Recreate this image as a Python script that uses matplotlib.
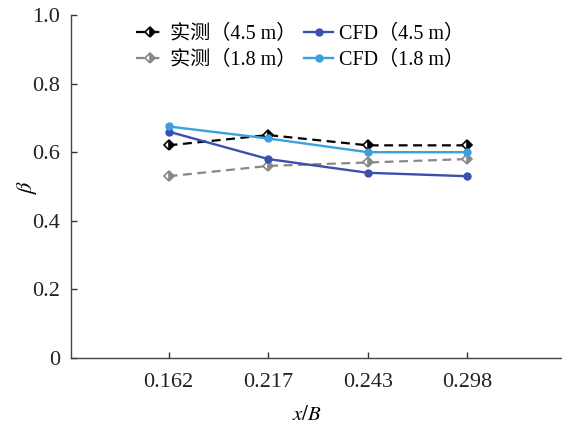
import matplotlib
matplotlib.use("Agg")
import matplotlib.pyplot as plt

plt.rcParams['font.family'] = ['Liberation Serif', 'Noto Sans CJK SC']
plt.rcParams['mathtext.fontset'] = 'stix'

# data
categories = ['0.162', '0.217', '0.243', '0.298']
meas_45 = [0.62, 0.65, 0.62, 0.62]
meas_18 = [0.53, 0.56, 0.57, 0.58]
cfd_45 = [0.66, 0.58, 0.54, 0.53]
cfd_18 = [0.675, 0.64, 0.60, 0.60]

x = range(len(categories))

fig = plt.figure(figsize=(5.62, 4.30), dpi=100)
ax = fig.add_axes([71/562, (430-358)/430, (562-71)/562, (358-15)/430])

# order chosen so the 2-column legend reads row by row like the original
ax.plot(x, meas_45, color='black', ls=(0, (4, 2.5)), lw=1.6, marker='D', ms=5.5,
        fillstyle='right', markerfacecoloralt='white', mec='black', mew=1.2,
        label='实测（4.5 m）')
ax.plot(x, meas_18, color='#888888', ls=(0, (4, 2.5)), lw=1.6, marker='D', ms=5.5,
        fillstyle='right', markerfacecoloralt='white', mec='#888888', mew=1.2,
        label='实测（1.8 m）')
ax.plot(x, cfd_45, color='#3b4fae', lw=1.7, marker='o', ms=5, label='CFD（4.5 m）')
ax.plot(x, cfd_18, color='#3d9fe0', lw=1.7, marker='o', ms=5, label='CFD（1.8 m）')

ax.set_xlim(-0.98, 3.95)
ax.set_ylim(0, 1.0)
ax.set_xticks(list(x))
ax.set_xticklabels(categories)
ax.set_yticks([0, 0.2, 0.4, 0.6, 0.8, 1.0])
ax.set_yticklabels(['0', '0.2', '0.4', '0.6', '0.8', '1.0'])
ax.tick_params(direction='in', length=4, width=1, colors='#333333', labelsize=16)
ax.tick_params(axis='x', pad=11)
ax.tick_params(axis='y', pad=8)
ax.tick_params(labelcolor='#222222')

for s in ['top', 'right']:
    ax.spines[s].set_visible(False)
for s in ['left', 'bottom']:
    ax.spines[s].set_color('#444444')
    ax.spines[s].set_linewidth(1.0)

ax.set_ylabel(r'$\beta$', fontsize=16)
ax.yaxis.set_label_coords(-0.065, 0.5)
ax.set_xlabel(r'$x/B$', fontsize=15)
ax.xaxis.set_label_coords(0.48, -0.14)

leg = ax.legend(ncol=2, loc='upper left', bbox_to_anchor=(0.095, 1.025), frameon=False,
                fontsize=14.5, handlelength=1.4, columnspacing=0.4, handletextpad=0.3,
                labelspacing=0.35)

fig.savefig('out.png', dpi=100)
